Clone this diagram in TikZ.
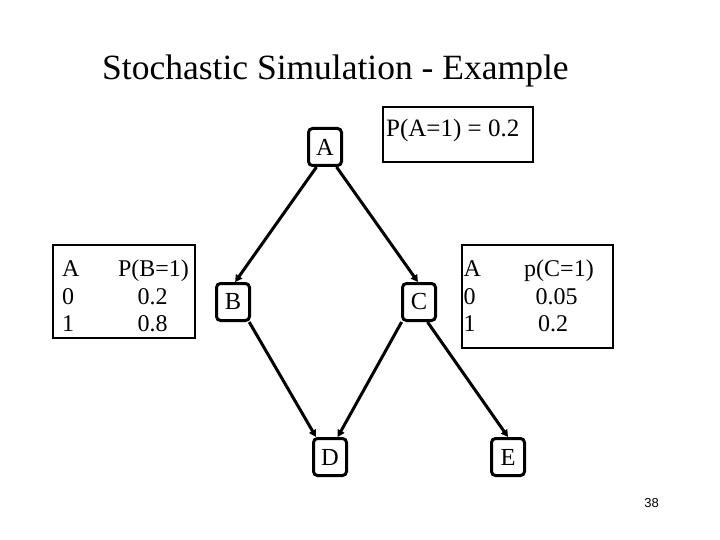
\documentclass[tikz,border=0pt]{standalone}
\usepackage{fontspec}
\setmainfont{Liberation Serif}
\newfontfamily\slidenumfont{Liberation Sans}
\usetikzlibrary{arrows.meta}
\begin{document}
\begin{tikzpicture}[x=1pt,y=-1pt,
  nodebox/.style={draw, line width=3pt, rounded corners=4pt, minimum width=33pt, minimum height=37pt, inner sep=0pt, font=\fontsize{24.5}{28}\selectfont},
  cptbox/.style={draw, line width=2.2pt, inner sep=0pt},
  cell/.style={inner sep=0pt, font=\fontsize{24}{28}\selectfont},
  edge/.style={line width=3pt, -{Triangle[length=7pt,width=7.5pt]}}]
\useasboundingbox (0,0) rectangle (720,540);

\node[inner sep=0pt, anchor=base west, font=\fontsize{35.5}{40}\selectfont] (title) at (102,80) {Stochastic Simulation - Example};

% nodes
\node[nodebox] (A) at (325,147) {A};
\node[nodebox] (B) at (233,302) {B};
\node[nodebox] (C) at (419,302) {C};
\node[nodebox] (D) at (330,457) {D};
\node[nodebox] (E) at (508,457) {E};

% P(A=1) box
\node[cptbox, minimum width=150pt, minimum height=55pt] (cptA) at (458,134.5) {};
\node[cell, anchor=base west, font=\fontsize{25}{29}\selectfont] (cptAtext) at (386,137) {P(A=1) = 0.2};

% CPT for B
\node[cptbox, minimum width=142pt, minimum height=93pt] (cptB) at (124,291.5) {};
\node[cell, anchor=base west] (bA) at (62,276) {A};
\node[cell, anchor=base west] (b0) at (62,304) {0};
\node[cell, anchor=base west] (b1) at (62,331) {1};
\node[cell, anchor=base] (bP) at (153.5,276) {P(B=1)};
\node[cell, anchor=base] (bv0) at (152.5,304) {0.2};
\node[cell, anchor=base] (bv1) at (152.5,331) {0.8};

% CPT for C
\node[cptbox, minimum width=151pt, minimum height=103pt] (cptC) at (537.5,296.7) {};
\node[cell, anchor=base west] (cA) at (463.5,276) {A};
\node[cell, anchor=base west] (c0) at (463.5,304) {0};
\node[cell, anchor=base west] (c1) at (463.5,331) {1};
\node[cell, anchor=base] (cP) at (559,276) {p(C=1)};
\node[cell, anchor=base] (cv0) at (556.5,304) {0.05};
\node[cell, anchor=base] (cv1) at (553,331) {0.2};

% edges
\draw[edge] (A.-113) -- (B.84);
\draw[edge] (A.-60) -- (C.93);
\draw[edge] (B.-51) -- (D.125);
\draw[edge] (C.-131) -- (D.69);
\draw[edge] (C.-67) -- (E.90);

% slide number
\node[inner sep=0pt, font=\slidenumfont\fontsize{13}{15}\selectfont] (num) at (651.5,503.5) {38};
\end{tikzpicture}
\end{document}
